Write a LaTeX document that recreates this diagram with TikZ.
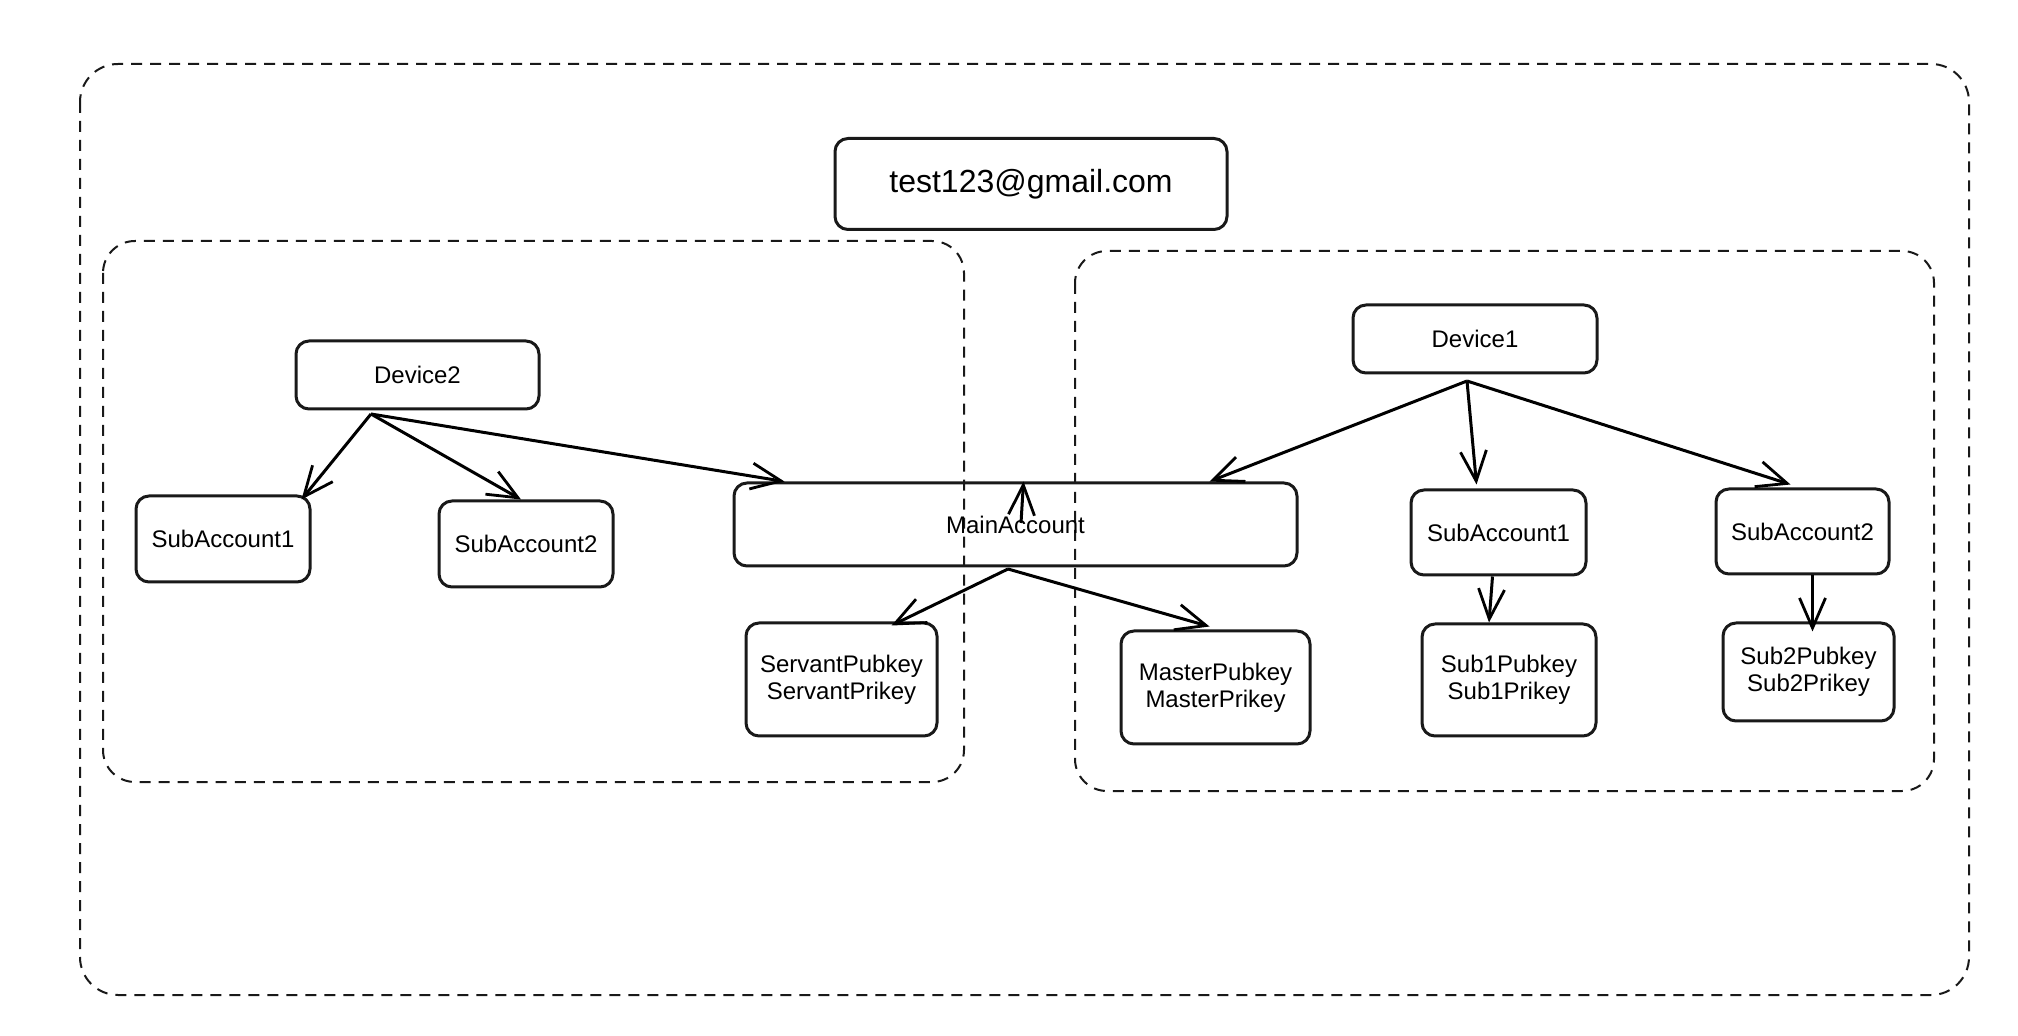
\documentclass[tikz,border=0pt]{standalone}
\usepackage{fontspec}
\setmainfont{Liberation Sans}
\usetikzlibrary{arrows.meta}

\begin{document}
\begin{tikzpicture}[
                x = 0.5pt, y = -0.5pt, % pixel grid of the sketch
                > = {Straight Barb[length=15pt, width=13pt, line width=1.4pt]}, % open arrow head
                line width = 1.5pt, % line style
                line join = round
            ]

            \useasboundingbox (0,0) rectangle (2018,1036);

            \tikzstyle{box}=[draw = black!90, rounded corners = 6.5pt, align = center,
            inner sep = 2pt, font = \fontsize{12}{13.5}\selectfont]
            \tikzstyle{group}=[draw = black!90, line width = 1pt, dash pattern = on 5.5pt off 4pt]

            % dashed groups
            \draw[group, rounded corners = 19pt] (80,64) rectangle (1969,995);
            \draw[group, rounded corners = 16pt] (103,241) rectangle (964,782);
            \draw[group, rounded corners = 16pt] (1075,251) rectangle (1934,791);

            \node (mail) [box, minimum width = 196pt, minimum height = 45.5pt,
            font = \fontsize{16}{18}\selectfont] at (1031,184) {test123@gmail.com};

            \node (dev2) [box, minimum width = 121.5pt, minimum height = 34pt] at (417.5,375) {Device2};
            \node (dev1) [box, minimum width = 122pt, minimum height = 34pt] at (1475,339) {Device1};
            \node (sa1) [box, minimum width = 87pt, minimum height = 43pt] at (223,539) {SubAccount1};
            \node (sa2) [box, minimum width = 87pt, minimum height = 43pt] at (526,544) {SubAccount2};
            \node (main) [box, minimum width = 281.5pt, minimum height = 41.5pt] at (1015.5,524.5) {MainAccount};
            \node (serv) [box, minimum width = 95.5pt, minimum height = 56.5pt] at (841.5,679.5)
            {ServantPubkey\\ServantPrikey};
            \node (mast) [box, minimum width = 94.5pt, minimum height = 56.5pt] at (1215.5,687.5)
            {MasterPubkey\\MasterPrikey};
            \node (sr1) [box, minimum width = 87.5pt, minimum height = 42.5pt] at (1498.5,532.5) {SubAccount1};
            \node (sr2) [box, minimum width = 86.5pt, minimum height = 42.5pt] at (1802.5,531.5) {SubAccount2};
            \node (sub1) [box, minimum width = 87pt, minimum height = 56pt] at (1509,680)
            {Sub1Pubkey\\Sub1Prikey};
            \node (sub2) [box, minimum width = 85.5pt, minimum height = 49pt] at (1808.5,672)
            {Sub2Pubkey\\Sub2Prikey};

            % start points of the fans
            \coordinate (d2o) at (371,414);
            \coordinate (d1o) at (1467,381);
            \coordinate (mo) at (1008,569);
            \coordinate (mi) at (1021,523);

            \path[->] (d2o) edge ([xshift=-5pt, yshift=-2.5pt]sa1.north east);
            \path[->] (d2o) edge ([xshift=-2.5pt]sa2.north);
            \path[->] (d2o) edge ([xshift=26pt]main.north west);
            \path[->] (d1o) edge ([xshift=97pt]main.north);
            \path[->] (d1o) edge ([xshift=-11pt, yshift=2pt]sr1.north);
            \path[->] (d1o) edge ([xshift=-6pt, yshift=1.5pt]sr2.north);
            \path[->] (mo) edge ([xshift=25pt, yshift=-2pt]serv.north);
            \path[->] (mo) edge ([xshift=-3pt, yshift=1.5pt]mast.north);
            \path[->] ([xshift=-3pt]sr1.south) edge ([xshift=-10pt]sub1.north);
            \path[->] ([xshift=5pt]sr2.south) edge ([xshift=2pt, yshift=-5pt]sub2.north);
            \path[->] (mi) edge ([xshift=4pt]main.north);

        \end{tikzpicture}
\end{document}
